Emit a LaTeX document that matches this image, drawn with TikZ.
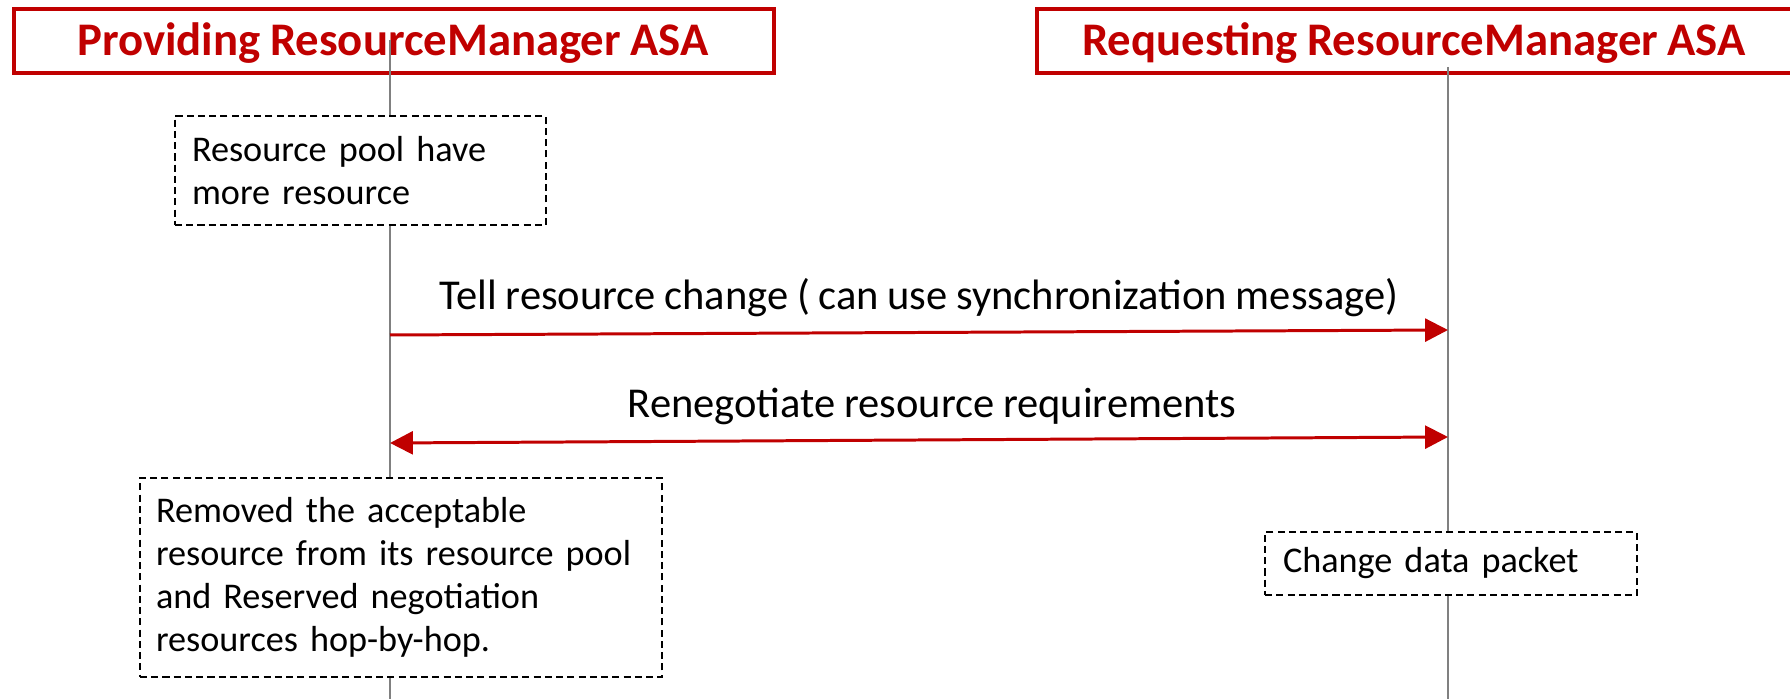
\documentclass[tikz,border=0pt]{standalone}
\usepackage{fontspec}
\setmainfont{Carlito}[WordSpace=0.9]
\usetikzlibrary{arrows.meta}
\definecolor{rmred}{HTML}{C00000}
\definecolor{lifegray}{HTML}{808080}
\tikzset{
  titlebox/.style={draw=rmred, line width=1pt, minimum height=6.4mm, inner sep=0pt},
  titletext/.style={text=rmred, font=\fontsize{13.3}{15}\selectfont\bfseries, anchor=base, inner sep=0pt},
  lifeline/.style={draw=lifegray, line width=0.45pt},
  notebox/.style={draw=black, dashed, dash pattern=on 2pt off 1.2pt, line width=0.45pt, fill=white,
    align=left, inner ysep=0pt, font=\fontsize{10.3}{12.3}\selectfont},
  msg/.style={draw=rmred, line width=0.85pt},
  msglabel/.style={font=\fontsize{12.1}{14}\selectfont, anchor=base, inner sep=0pt},
  tip/.tip={Triangle[length=6.5pt,width=6.5pt]}
}
\begin{document}
\begin{tikzpicture}[x=0.1mm, y=-0.1mm]
\useasboundingbox (0,0) rectangle (1790,699);
% title boxes
\node[titlebox, minimum width=76mm] (t1) at (394,41) {};
\node[titlebox, minimum width=75.8mm] (t2) at (1416,41) {};
\node[titletext] (t1txt) at (393,56) {Providing ResourceManager ASA};
\node[titletext] (t2txt) at (1414,56) {Requesting ResourceManager ASA};
% lifelines
\coordinate (l1top) at (390,40);
\coordinate (l1bot) at (390,699);
\coordinate (l2top) at (1448,67);
\coordinate (l2bot) at (1448,699);
\draw[lifeline] (l1top) -- (l1bot);
\draw[lifeline] (l2top) -- (l2bot);
% notes
\node[notebox, minimum width=37.1mm, minimum height=10.9mm, text width=33.7mm, inner xsep=1.7mm] (n1) at (360.5,170.5)
  {Resource pool have\\more resource};
\node[notebox, minimum width=52.2mm, minimum height=19.9mm, text width=49mm, inner xsep=1.6mm] (n2) at (401,577.5)
  {Removed the acceptable\\resource from its resource pool\\and Reserved negotiation\\resources hop-by-hop.};
\node[notebox, minimum width=37.2mm, minimum height=6.3mm, text width=33.6mm, inner xsep=1.8mm] (n3) at (1451,563.5)
  {\raisebox{-0.45mm}{Change data packet}};
% messages
\coordinate (m1a) at (390,335);
\coordinate (m1b) at (1448,330);
\coordinate (m2a) at (390,443);
\coordinate (m2b) at (1448,437);
\draw[msg, -{tip}, rmred] (m1a) -- (m1b);
\draw[msg, {tip}-{tip}, rmred] (m2a) -- (m2b);
\node[msglabel] (lab1) at (919,310) {Tell resource change ( can use synchronization message)};
\node[msglabel] (lab2) at (932,418) {Renegotiate resource requirements};
\end{tikzpicture}
\end{document}
